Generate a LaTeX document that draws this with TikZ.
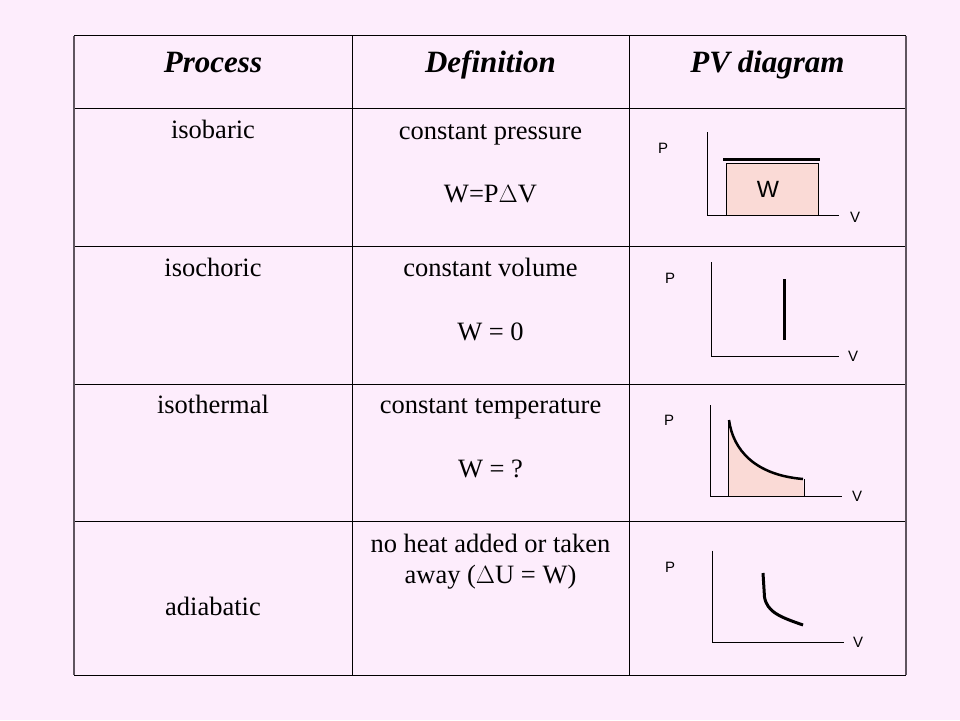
\documentclass[tikz,border=0pt]{standalone}
\usepackage{fontspec}
\setmainfont{Liberation Serif}
\newfontfamily\arialfont{Liberation Sans}
\usetikzlibrary{positioning}
\definecolor{slidebg}{RGB}{253,237,252}
\definecolor{workfill}{RGB}{250,218,214}
\definecolor{edgegray}{RGB}{95,85,95}

\begin{document}
\begin{tikzpicture}[x=1pt,y=-1pt,
   head/.style={anchor=base,font=\fontsize{31}{36}\selectfont\bfseries\itshape},
   body/.style={anchor=base,font=\fontsize{26.5}{31}\selectfont},
   axislabel/.style={anchor=base,font=\arialfont\fontsize{15}{18}\selectfont},
   rule/.style={line width=1pt},
   axis/.style={line width=1pt},
   curve/.style={line width=3pt}]
   \fill[slidebg] (0,0) rectangle (960,720);
   \useasboundingbox (0,0) rectangle (960,720);

   % table
   \draw[rule] (74,35.5) -- (906,35.5);
   \draw[rule] (74,108)  -- (906,108);
   \draw[rule] (74,246)  -- (906,246);
   \draw[rule] (74,384)  -- (906,384);
   \draw[rule] (74,521)  -- (906,521);
   \draw[rule] (74,675)  -- (906,675);
   \draw[rule] (352,35.5) -- (352,675);
   \draw[rule] (629,35.5) -- (629,675);
   \draw[line width=1.5pt, edgegray] (74,35.5) -- (74,675);
   \draw[line width=1.5pt, edgegray] (906,35.5) -- (906,675);

   \node[head] (process)    at (213,72)   {Process};
   \node[head] (definition) at (490.5,72) {Definition};
   \node[head] (pvdiagram)  at (767.5,72) {PV diagram};

   \node[body] (isobaric)   at (213,138)   {isobaric};
   \node[body] (isochoric)  at (213,276)   {isochoric};
   \node[body] (isothermal) at (213,413)   {isothermal};
   \node[body] (adiabatic)  at (213,615)   {adiabatic};

   \node[body] (def_1)  at (490.5,139) {constant pressure};
   \node[body] (work_1) at (490.5,202) {W=P$\Delta$V};
   \node[body] (def_2)  at (490.5,276) {constant volume};
   \node[body] (work_2) at (490.5,340) {W = 0};
   \node[body] (def_3)  at (490.5,413) {constant temperature};
   \node[body] (work_3) at (490.5,477) {W = ?};
   \node[body] (def_4)  at (490.5,552) {no heat added or taken};
   \node[body] (work_4) at (490.5,583) {away ($\Delta$U = W)};

   % isobaric
   \filldraw[fill=workfill, draw=black, line width=1pt] (726,163) rectangle (818,215.5);
   \draw[axis] (707,132) -- (707,215.7) -- (839,215.7);
   \draw[curve] (723,159) -- (820,159);
   \node[anchor=base,font=\arialfont\fontsize{23.5}{28}\selectfont] (w_1) at (768,197) {W};
   \node[axislabel] (p_1) at (663,153) {P};
   \node[axislabel] (v_1) at (855,222) {V};

   % isochoric
   \draw[axis] (711,262) -- (711,356.7) -- (839,356.7);
   \draw[curve] (784,279) -- (784,340);
   \node[axislabel] (p_2) at (670,283) {P};
   \node[axislabel] (v_2) at (853,361) {V};

   % isothermal
   \fill[workfill] (728,496.7) -- (728,420)
      .. controls (733,450) and (755,475) .. (803,479) -- (804,496.7) -- cycle;
   \draw[line width=1pt] (728,420) -- (728,496.7);
   \draw[line width=1pt] (804,479) -- (804,496.7);
   \draw[axis] (710.7,405) -- (710.7,496.7) -- (842,496.7);
   \draw[line width=2.5pt] (729,420) .. controls (733,450) and (755,475) .. (803,479);
   \node[axislabel] (p_3) at (669,425) {P};
   \node[axislabel] (v_3) at (857,501) {V};

   % adiabatic
   \draw[axis] (712.7,550.7) -- (712.7,642.3) -- (844,642.3);
   \draw[curve] (763,573) -- (764.5,597) .. controls (767,612) and (780,617) .. (803,625);
   \node[axislabel] (p_4) at (670,572) {P};
   \node[axislabel] (v_4) at (858,647) {V};
\end{tikzpicture}
\end{document}
